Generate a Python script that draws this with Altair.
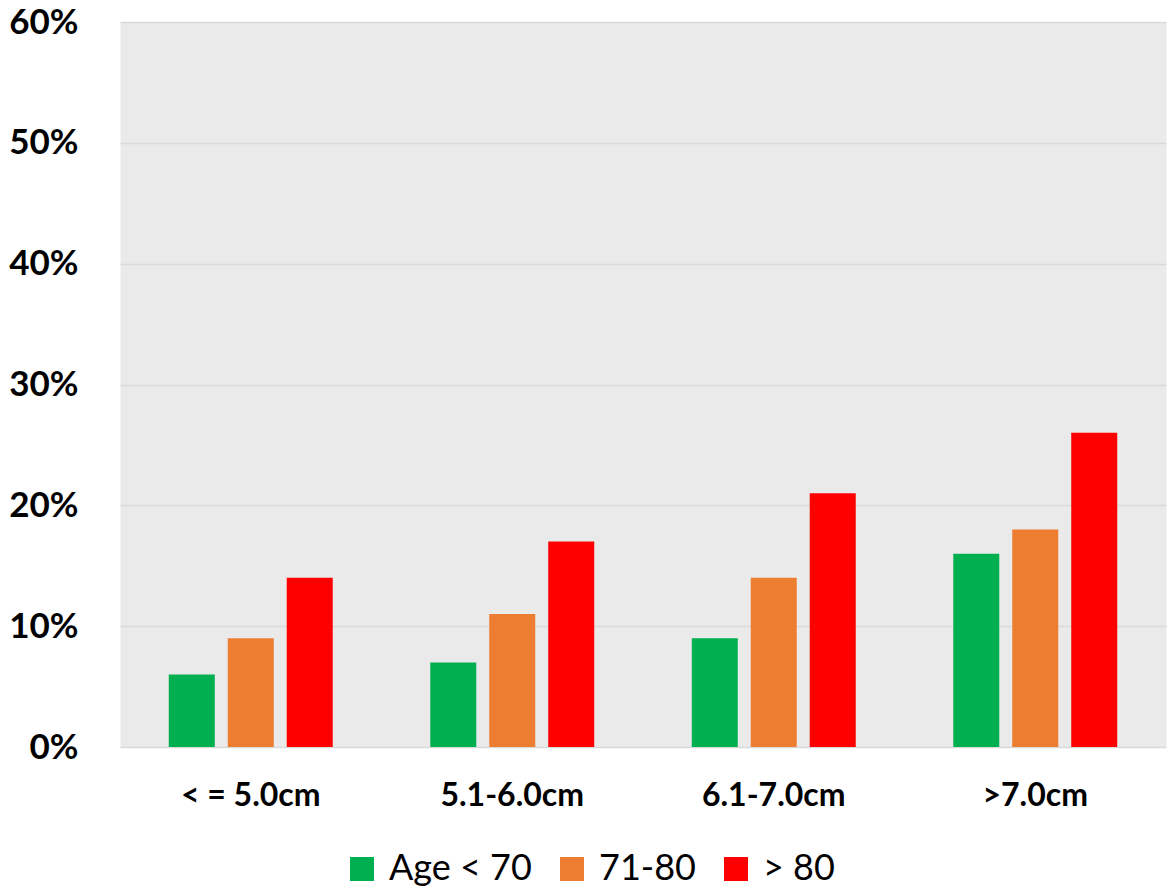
import altair as alt
import pandas as pd

# Aneurysm size bands and age groups
sizes = ["< = 5.0cm", "5.1-6.0cm", "6.1-7.0cm", ">7.0cm"]
age_groups = ["Age < 70", "71-80", "> 80"]
colors = ["#00B050", "#ED7D31", "#FF0000"]

# Percentage per size band, one list per age group
under_70 = [0.06, 0.07, 0.09, 0.16]
age_71_80 = [0.09, 0.11, 0.14, 0.18]
over_80 = [0.14, 0.17, 0.21, 0.26]

rows = []
for group, vals in zip(age_groups, [under_70, age_71_80, over_80]):
    for size, v in zip(sizes, vals):
        rows.append({"size": size, "group": group, "value": v})
df = pd.DataFrame(rows)

FONT = "Lato"

chart = (
    alt.Chart(df)
    .mark_bar()
    .encode(
        x=alt.X(
            "size:N",
            sort=sizes,
            title=None,
            scale=alt.Scale(paddingInner=0.373, paddingOuter=0.1865),
            axis=alt.Axis(
                labelAngle=0,
                labelFont=FONT,
                labelFontSize=32,
                labelFontWeight="bold",
                labelColor="black",
                labelPadding=33,
                ticks=False,
                domain=False,
                grid=False,
            ),
        ),
        xOffset=alt.XOffset(
            "group:N",
            sort=age_groups,
            scale=alt.Scale(paddingInner=0.22, paddingOuter=0),
        ),
        y=alt.Y(
            "value:Q",
            title=None,
            scale=alt.Scale(domain=[0, 0.6], nice=False),
            axis=alt.Axis(
                format=".0%",
                values=[0, 0.1, 0.2, 0.3, 0.4, 0.5, 0.6],
                labelFont=FONT,
                labelFontSize=35,
                labelFontWeight="bold",
                labelColor="black",
                labelPadding=42,
                ticks=False,
                domain=False,
                gridColor="#D9D9D9",
                gridWidth=1.5,
            ),
        ),
        color=alt.Color(
            "group:N",
            sort=age_groups,
            scale=alt.Scale(domain=age_groups, range=colors),
            legend=alt.Legend(
                title=None,
                orient="none",
                direction="horizontal",
                legendX=224,
                legendY=829,
                symbolType="square",
                symbolSize=576,
                symbolStrokeWidth=0,
                labelFont=FONT,
                labelFontSize=36,
                labelColor="black",
                labelOffset=9,
                columnPadding=22,
            ),
        ),
    )
    .properties(
        width=1046,
        height=725,
        autosize=alt.AutoSizeParams(type="none"),
        padding={"left": 120, "top": 22, "right": 2, "bottom": 142},
    )
    .configure(background="white")
    .configure_view(fill="#EAEAEA", stroke="transparent")
)

chart.save("out.html", embed_options={"renderer": "svg", "actions": False})
